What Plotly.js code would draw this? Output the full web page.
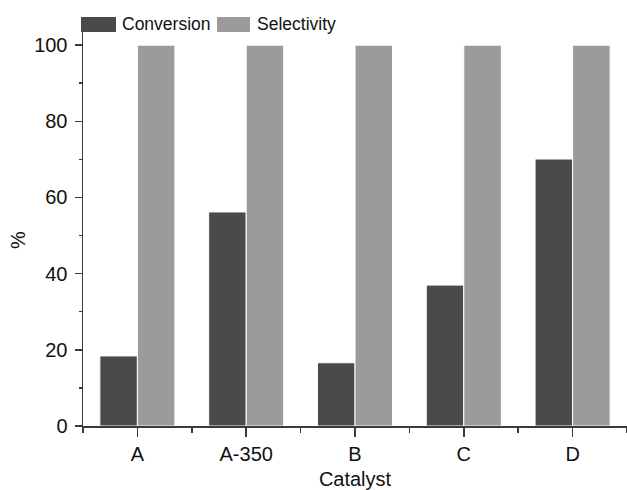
<!DOCTYPE html>
<html>
<head>
<meta charset="utf-8">
<script src="https://cdn.plot.ly/plotly-3.0.1.min.js"></script>
<style>
  html, body { margin: 0; padding: 0; background: #fff; }
  #chart { width: 627px; height: 490px; }
</style>
</head>
<body>
<div id="chart"></div>
<script>
// Catalyst performance: conversion and selectivity (%)
const catalysts = ["A", "A-350", "B", "C", "D"];
const conversion = [18.4, 56.2, 16.6, 37.0, 70.1];
const selectivity = [100, 100, 100, 100, 100];
const seriesNames = ["Conversion", "Selectivity"];
const seriesColors = ["#4a4a4a", "#9b9b9b"];
const xTitle = "Catalyst";
const yTitle = "%";

const W = 627, H = 490;
const M = { l: 83, r: 0, t: 28, b: 64 };
const plotW = W - M.l - M.r, plotH = H - M.t - M.b;
const FONT = "Liberation Sans, Arial, sans-serif";
const AXIS_COLOR = "#3a3a3a";
const TEXT_COLOR = "#111111";

// pixel -> paper helpers for the hand-laid legend and y title
const px = x => (x - M.l) / plotW;
const py = y => (H - M.b - y) / plotH;

const idx = catalysts.map((_, i) => i);

const traces = [conversion, selectivity].map((vals, k) => ({
  type: "bar",
  name: seriesNames[k],
  x: idx,
  y: vals,
  marker: { color: seriesColors[k], line: { color: "#ffffff", width: 1 } },
  hoverinfo: "x+y+name",
  showlegend: false
}));

const tickFont = { family: FONT, size: 20, color: TEXT_COLOR };

// legend: swatch + label for each series
const legendItems = [
  { x0: 81, x1: 116, tx: 120 },
  { x0: 217, x1: 250, tx: 255 }
];
const shapes = legendItems.map((it, k) => ({
  type: "rect", xref: "paper", yref: "paper",
  x0: px(it.x0), x1: px(it.x1), y0: py(32), y1: py(17),
  fillcolor: seriesColors[k], line: { width: 0 }
}));
const annotations = legendItems.map((it, k) => ({
  xref: "paper", yref: "paper",
  x: px(it.tx), y: py(24),
  xanchor: "left", yanchor: "middle",
  text: seriesNames[k], showarrow: false,
  font: { family: FONT, size: 17.5, color: TEXT_COLOR }
}));
// rotated y-axis title
annotations.push({
  xref: "paper", yref: "paper",
  x: px(18), y: py(240),
  xanchor: "center", yanchor: "middle",
  text: yTitle, textangle: -90, showarrow: false,
  font: tickFont
});

const layout = {
  width: W, height: H,
  margin: M,
  paper_bgcolor: "#ffffff",
  plot_bgcolor: "#ffffff",
  font: { family: FONT, size: 20, color: TEXT_COLOR },
  barmode: "group",
  bargap: 0.31,
  bargroupgap: 0,
  showlegend: false,
  xaxis: {
    range: [-0.5, 4.5],
    tickmode: "array",
    tickvals: idx,
    ticktext: catalysts,
    ticks: "outside", ticklen: 9, tickwidth: 1.5, tickcolor: AXIS_COLOR,
    minor: { ticks: "outside", ticklen: 5, tickwidth: 1.5, tickcolor: AXIS_COLOR, tick0: -0.5, dtick: 1, showgrid: false },
    showline: true, linecolor: AXIS_COLOR, linewidth: 1.5,
    showgrid: false, zeroline: false,
    tickfont: tickFont,
    title: { text: xTitle, font: tickFont },
    fixedrange: true
  },
  yaxis: {
    range: [0, 104.5],
    tickmode: "linear", tick0: 0, dtick: 20,
    ticks: "outside", ticklen: 7, tickwidth: 1.5, tickcolor: AXIS_COLOR,
    minor: { ticks: "outside", ticklen: 3, tickwidth: 1.5, tickcolor: AXIS_COLOR, dtick: 10, showgrid: false },
    showline: true, linecolor: AXIS_COLOR, linewidth: 1.5,
    showgrid: false, zeroline: false,
    ticklabelstandoff: 3,
    tickfont: tickFont,
    fixedrange: true
  },
  shapes: shapes,
  annotations: annotations
};

Plotly.newPlot("chart", traces, layout, { displayModeBar: false, staticPlot: true });
</script>
</body>
</html>
